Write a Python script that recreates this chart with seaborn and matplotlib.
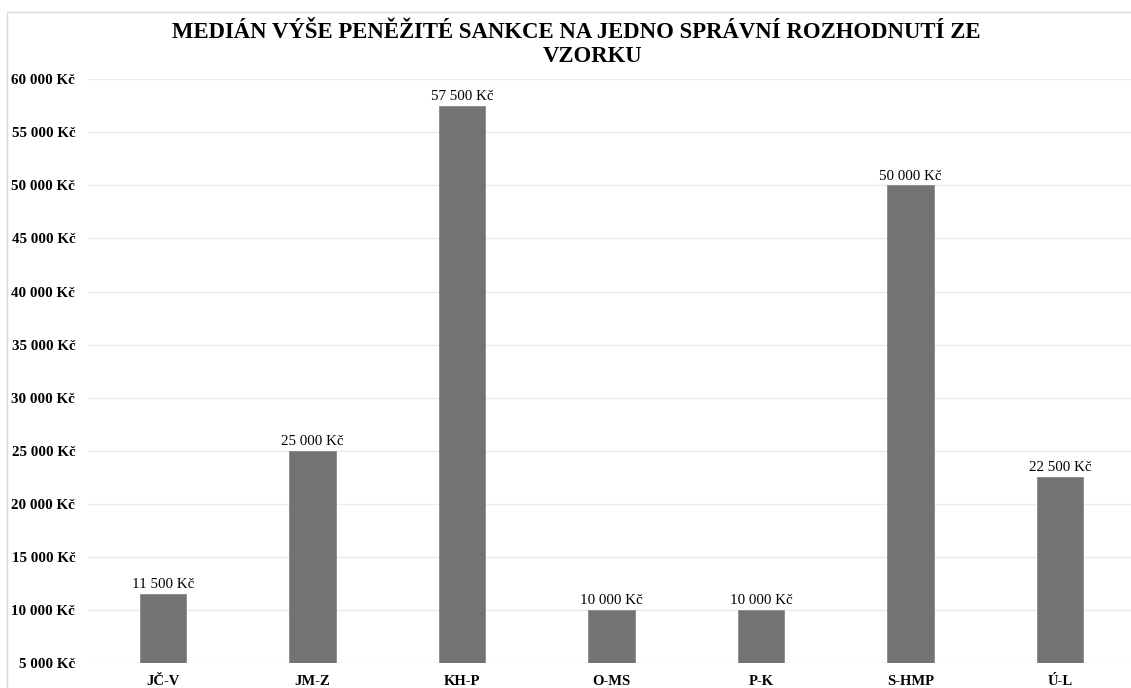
import matplotlib
matplotlib.use("Agg")
import matplotlib.pyplot as plt
import seaborn as sns
import pandas as pd
from matplotlib.ticker import FuncFormatter, MultipleLocator
from matplotlib.patches import Rectangle

categories = ["JČ-V", "JM-Z", "KH-P", "O-MS", "P-K", "S-HMP", "Ú-L"]
values = [11500, 25000, 57500, 10000, 10000, 50000, 22500]
title_line1 = "MEDIÁN VÝŠE PENĚŽITÉ SANKCE NA JEDNO SPRÁVNÍ ROZHODNUTÍ ZE"
title_line2 = "VZORKU"

def kc(v):
    return f"{int(round(v)):,}".replace(",", " ") + " Kč"

sns.set_theme(style="white")
plt.rcParams["font.family"] = ["Liberation Serif", "DejaVu Serif"]

W, H = 1131, 688
fig = plt.figure(figsize=(W / 100, H / 100), dpi=100)
fig.patch.set_facecolor("white")

# outer chart border
fig.patches.append(Rectangle((7 / W, -0.1), 1.2, 1 - 12 / H + 0.1, transform=fig.transFigure,
                             fill=False, edgecolor="#d9d9d9", linewidth=1.0, zorder=0))

left_px, right_px = 88.25, 1134.75
top_px, bot_px = 79.3, 663
ax = fig.add_axes([left_px / W, (H - bot_px) / H, (right_px - left_px) / W, (bot_px - top_px) / H])

df = pd.DataFrame({"cat": categories, "val": values})
sns.barplot(data=df, x="cat", y="val", ax=ax, color="#737373", saturation=1,
            width=0.31, edgecolor="#8a8a8a", linewidth=0.6, zorder=3)

ax.set_ylim(5000, 60000)
ax.yaxis.set_major_locator(MultipleLocator(5000))
ax.yaxis.set_major_formatter(FuncFormatter(lambda v, p: kc(v)))
ax.grid(axis="y", color="#ebebeb", linewidth=1.0, zorder=0)
ax.set_axisbelow(True)
for s in ax.spines.values():
    s.set_visible(False)
ax.set_xlabel("")
ax.set_ylabel("")
ax.tick_params(axis="y", length=0, pad=9.4, labelsize=10.8)
ax.tick_params(axis="x", length=0, pad=8.5, labelsize=10.5)
for lbl in ax.get_yticklabels() + ax.get_xticklabels():
    lbl.set_fontweight("bold")
    lbl.set_color("black")

for c in ax.containers:
    ax.bar_label(c, labels=[kc(v) for v in values], padding=2, fontsize=10.8, color="black")

fig.text(576 / W, 1 - 33 / H, title_line1, ha="center", va="center",
         fontsize=16.4, fontweight="bold", color="black")
fig.text(593 / W, 1 - 57 / H, title_line2, ha="center", va="center",
         fontsize=16.4, fontweight="bold", color="black")

fig.savefig("out.png", dpi=100, facecolor="white")
